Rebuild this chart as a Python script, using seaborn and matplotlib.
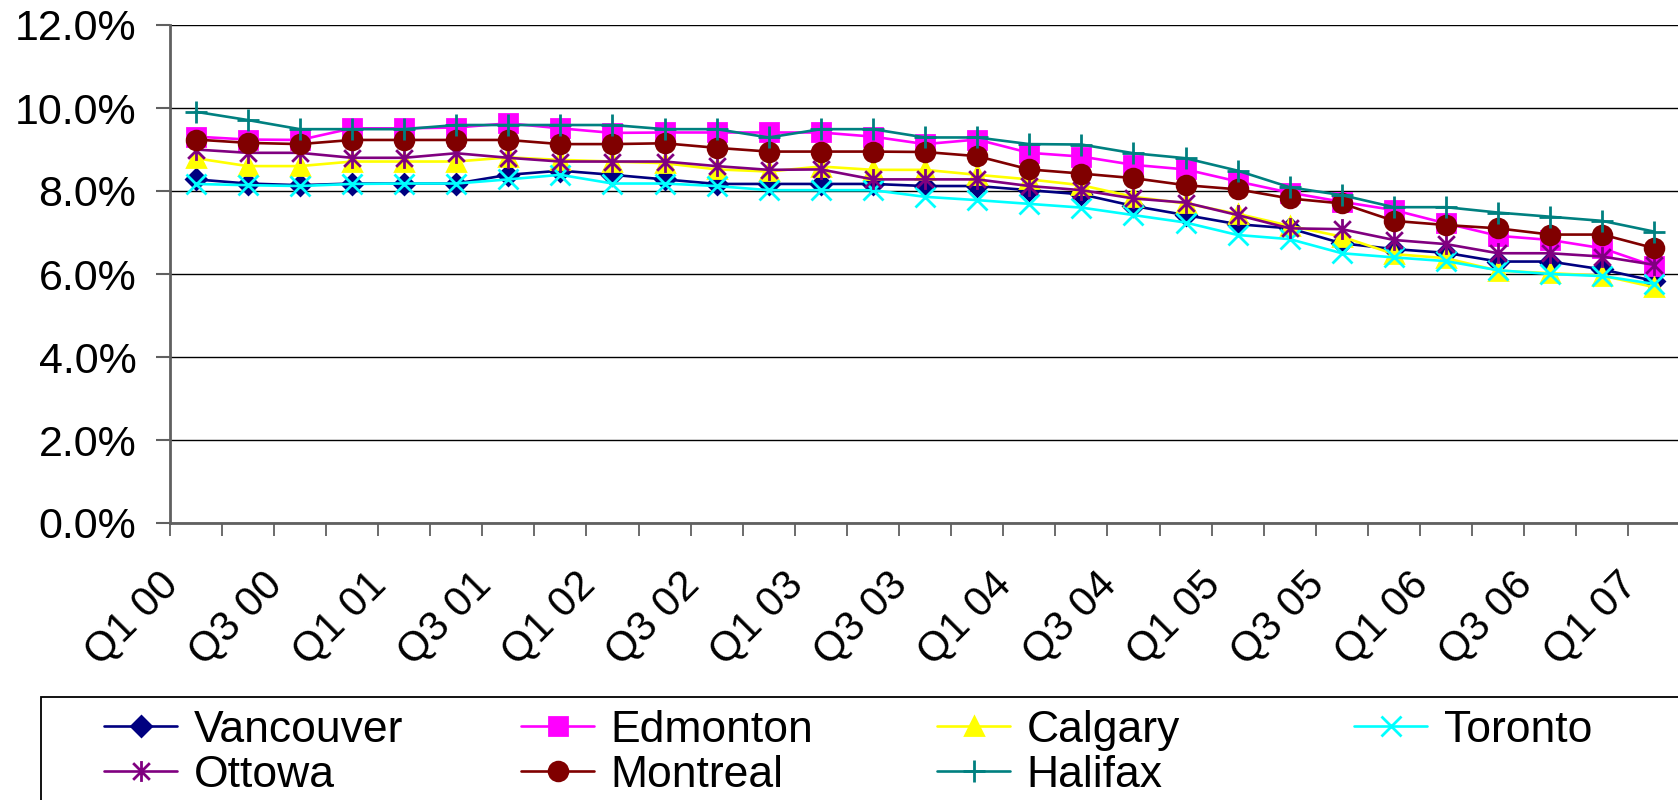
import numpy as np
import pandas as pd
import matplotlib
matplotlib.use("Agg")
import matplotlib.pyplot as plt
import seaborn as sns
from matplotlib.path import Path
from matplotlib.patches import Rectangle
from matplotlib.ticker import FixedLocator, PercentFormatter, NullFormatter
from matplotlib.transforms import ScaledTranslation

# Quarterly rates (%) by city, Q1 2000 - Q1 2007
quarters = ["Q1 00", "Q2 00", "Q3 00", "Q4 00",
            "Q1 01", "Q2 01", "Q3 01", "Q4 01",
            "Q1 02", "Q2 02", "Q3 02", "Q4 02",
            "Q1 03", "Q2 03", "Q3 03", "Q4 03",
            "Q1 04", "Q2 04", "Q3 04", "Q4 04",
            "Q1 05", "Q2 05", "Q3 05", "Q4 05",
            "Q1 06", "Q2 06", "Q3 06", "Q4 06",
            "Q1 07"]

vancouver = [8.28, 8.18, 8.14, 8.18, 8.18, 8.18, 8.39, 8.49, 8.39,
             8.28, 8.17, 8.17, 8.17, 8.17, 8.12, 8.12, 8.02, 7.92,
             7.64, 7.42, 7.20, 7.10, 6.74, 6.60, 6.51, 6.30, 6.30, 6.11,
             5.83]
edmonton = [9.31, 9.24, 9.23, 9.51, 9.51, 9.53, 9.63, 9.51, 9.40,
            9.41, 9.41, 9.41, 9.41, 9.31, 9.13, 9.24, 8.92, 8.83,
            8.63, 8.52, 8.23, 7.96, 7.74, 7.54, 7.22, 6.92, 6.82, 6.62,
            6.19]
calgary = [8.79, 8.60, 8.60, 8.71, 8.71, 8.71, 8.81, 8.75, 8.71,
           8.67, 8.52, 8.47, 8.59, 8.51, 8.51, 8.39, 8.28, 8.14,
           7.86, 7.70, 7.45, 7.16, 6.90, 6.48, 6.38, 6.08, 6.02, 5.96,
           5.68]
toronto = [8.17, 8.14, 8.12, 8.17, 8.18, 8.18, 8.28, 8.39, 8.18,
           8.18, 8.12, 8.02, 8.02, 8.02, 7.86, 7.78, 7.69, 7.60,
           7.42, 7.24, 6.94, 6.84, 6.50, 6.40, 6.31, 6.09, 6.00, 5.95,
           5.76]
ottowa = [9.00, 8.92, 8.92, 8.80, 8.80, 8.91, 8.80, 8.71, 8.71,
          8.71, 8.60, 8.51, 8.52, 8.28, 8.28, 8.28, 8.12, 8.02,
          7.82, 7.72, 7.42, 7.10, 7.08, 6.82, 6.72, 6.50, 6.50, 6.42,
          6.22]
montreal = [9.24, 9.16, 9.13, 9.23, 9.23, 9.23, 9.23, 9.13, 9.13,
            9.15, 9.04, 8.95, 8.95, 8.95, 8.94, 8.84, 8.52, 8.42,
            8.31, 8.14, 8.04, 7.82, 7.70, 7.28, 7.18, 7.10, 6.95, 6.95,
            6.62]
halifax = [9.91, 9.71, 9.49, 9.49, 9.49, 9.59, 9.59, 9.59, 9.59,
           9.49, 9.49, 9.29, 9.49, 9.49, 9.29, 9.29, 9.13, 9.12,
           8.91, 8.79, 8.49, 8.09, 7.90, 7.61, 7.61, 7.48, 7.38, 7.28,
           7.02]

cities = ["Vancouver", "Edmonton", "Calgary", "Toronto",
          "Ottowa", "Montreal", "Halifax"]

df = pd.DataFrame({
    "Vancouver": vancouver, "Edmonton": edmonton, "Calgary": calgary,
    "Toronto": toronto, "Ottowa": ottowa, "Montreal": montreal,
    "Halifax": halifax,
})
df["pos"] = np.arange(len(quarters))

# asterisk marker: vertical bar plus a diagonal cross
star = Path([(0, -1), (0, 1), (-0.8, -0.8), (0.8, 0.8), (-0.8, 0.8), (0.8, -0.8)],
            [Path.MOVETO, Path.LINETO] * 3)

styles = {
    "Vancouver": dict(color="#000080", marker="D", ms=10),
    "Edmonton": dict(color="#FF00FF", marker="s", ms=13),
    "Calgary": dict(color="#FFFF00", marker="^", ms=13),
    "Toronto": dict(color="#00FFFF", marker="x", ms=14),
    "Ottowa": dict(color="#800080", marker=star, ms=15),
    "Montreal": dict(color="#800000", marker="o", ms=13.5),
    "Halifax": dict(color="#008080", marker="+", ms=16),
}

sns.set_style("white")
plt.rcParams["font.family"] = ["Liberation Sans", "DejaVu Sans"]
plt.rcParams["text.color"] = "black"

W, H = 1678, 800
fig = plt.figure(figsize=(W / 100, H / 100), dpi=100)
ax = fig.add_axes([169.6 / W, 1 - 523 / H, (1680.5 - 169.6) / W, (523 - 25) / H])

for city in cities:
    st = styles[city]
    sns.lineplot(data=df, x="pos", y=city, ax=ax, color=st["color"],
                 marker=st["marker"], markersize=st["ms"],
                 markeredgecolor=st["color"], markerfacecolor=st["color"],
                 markeredgewidth=2.0, linewidth=1.9, label=city,
                 legend=False)

# axes limits and ticks
ax.set_xlim(-0.5, len(quarters) - 0.5)
ax.set_ylim(0, 12)
ax.set_xlabel("")
ax.set_ylabel("")

ax.yaxis.set_major_locator(FixedLocator(np.arange(0, 12.1, 2)))
ax.yaxis.set_major_formatter(PercentFormatter(xmax=100, decimals=1))
ax.grid(axis="y", color="black", linewidth=1.0)
ax.grid(axis="x", visible=False)
ax.tick_params(axis="y", which="major", direction="out", length=10, width=1.5,
               color="#606060", pad=14, labelsize=31, labelcolor="black", left=True)

major_pos = np.arange(0, len(quarters), 2)
ax.xaxis.set_major_locator(FixedLocator(major_pos))
ax.set_xticklabels([quarters[i] for i in major_pos], rotation=45,
                   ha="right", va="top", rotation_mode="anchor")
ax.xaxis.set_minor_locator(FixedLocator(np.arange(-0.5, len(quarters), 1)))
ax.xaxis.set_minor_formatter(NullFormatter())
ax.tick_params(axis="x", which="major", length=0, pad=30, labelsize=30,
               labelcolor="black")
ax.tick_params(axis="x", which="minor", direction="out", length=9.5, width=1.3,
               color="#606060", bottom=True)

shift = ScaledTranslation(-0.38, 0, fig.dpi_scale_trans)
for lab in ax.get_xticklabels():
    lab.set_transform(lab.get_transform() + shift)

for side in ("top", "right"):
    ax.spines[side].set_visible(False)
for side in ("left", "bottom"):
    ax.spines[side].set_color("#606060")
    ax.spines[side].set_linewidth(2.0)

# legend: four equal-width columns, filled row by row
handles, labels = ax.get_legend_handles_labels()
hmap = dict(zip(labels, handles))
columns = [["Vancouver", "Ottowa"], ["Edmonton", "Montreal"],
           ["Calgary", "Halifax"], ["Toronto"]]
col_left = [104, 521, 937, 1354]
for names, x0 in zip(columns, col_left):
    fig.legend([hmap[c] for c in names], names, loc="upper left",
               bbox_to_anchor=(x0 / W, 1 - 710 / H), bbox_transform=fig.transFigure,
               frameon=False, fontsize=32, handlelength=1.65, handletextpad=0.37,
               labelspacing=0.08, borderpad=0, borderaxespad=0)

fig.add_artist(Rectangle((40.7 / W, -0.01), 1.0, 0.01 + (800 - 696.7) / H,
                         transform=fig.transFigure, fill=False,
                         edgecolor="black", linewidth=1.3, clip_on=False))

fig.savefig("out.png", dpi=100, facecolor="white")
